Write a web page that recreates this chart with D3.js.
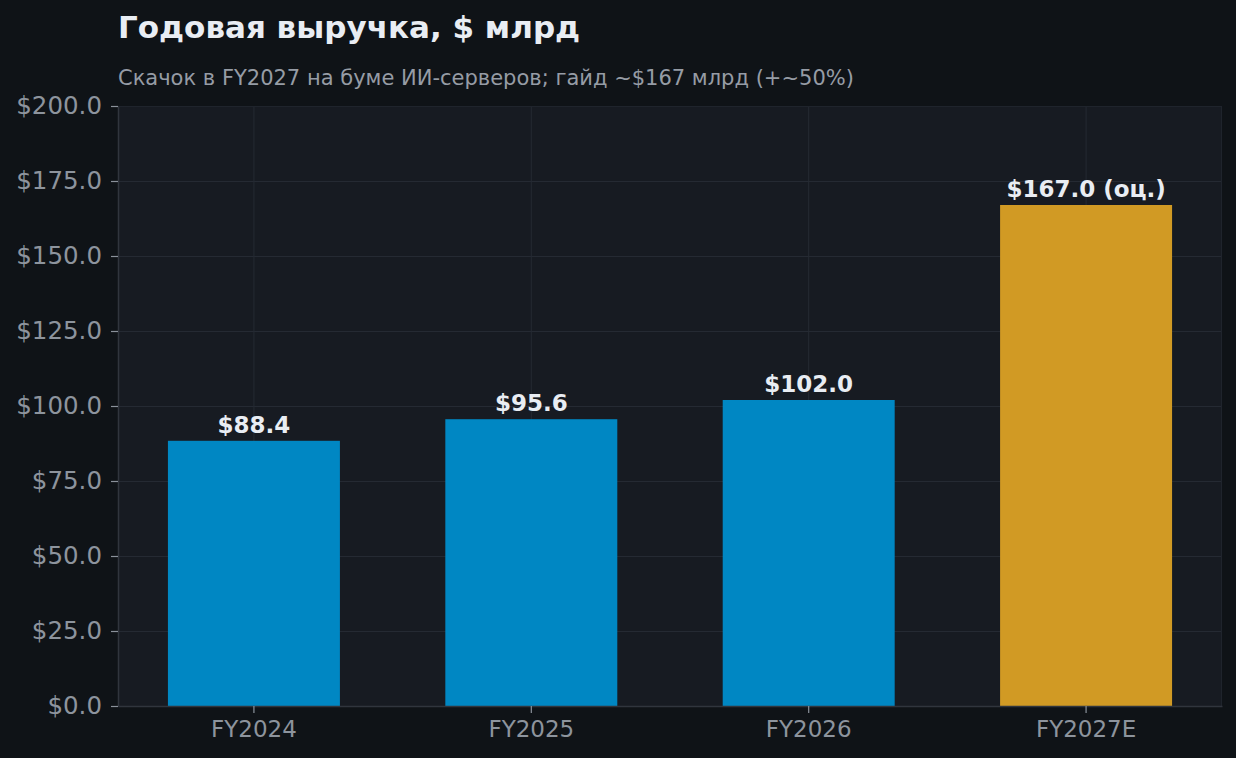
<!DOCTYPE html>
<html>
<head>
<meta charset="utf-8">
<script src="https://cdn.jsdelivr.net/npm/d3@7"></script>
<style>
  html, body { margin:0; padding:0; background:#0f1317; }
  svg { display:block; }
</style>
</head>
<body>
<svg id="chart" width="1236" height="758"></svg>
<script>
// data
const categories = ["FY2024", "FY2025", "FY2026", "FY2027E"];
const revenue = [88.4, 95.6, 102.0, 167.0];
const isEstimate = [false, false, false, true];
const yTicks = [0, 25, 50, 75, 100, 125, 150, 175, 200];

const titleText = "Годовая выручка, $ млрд";
const subtitleText = "Скачок в FY2027 на буме ИИ-серверов; гайд ~$167 млрд (+~50%)";

function fmt(v){ return "$" + v.toFixed(1); }

function draw(){
  const svg = d3.select("#chart");
  const W = 1236, H = 758;
  const m = {l:118, r:14, t:106, b:52};
  const font = "DejaVu Sans, sans-serif";

  svg.append("rect").attr("width", W).attr("height", H).attr("fill", "#0f1317");

  const x = d3.scaleBand().domain(categories)
    .range([m.l, W - m.r]).paddingInner(0.38).paddingOuter(0.18);
  const y = d3.scaleLinear().domain([0, 200]).range([H - m.b, m.t]);

  // plot background
  svg.append("rect")
    .attr("x", m.l).attr("y", m.t)
    .attr("width", W - m.r - m.l).attr("height", H - m.b - m.t)
    .attr("fill", "#171b22");

  // grid
  svg.append("g").selectAll("line.hg")
    .data(yTicks).enter().append("line")
    .attr("x1", m.l).attr("x2", W - m.r)
    .attr("y1", d => y(d) + 0.5).attr("y2", d => y(d) + 0.5)
    .attr("stroke", "#252a33").attr("stroke-width", 1);
  svg.append("g").selectAll("line.vg")
    .data(categories).enter().append("line")
    .attr("x1", d => x(d) + x.bandwidth()/2).attr("x2", d => x(d) + x.bandwidth()/2)
    .attr("y1", m.t).attr("y2", H - m.b)
    .attr("stroke", "#252a33").attr("stroke-width", 1);

  // bars
  svg.append("g").selectAll("rect.bar")
    .data(categories).enter().append("rect")
    .attr("x", d => x(d))
    .attr("y", (d, i) => y(revenue[i]))
    .attr("width", x.bandwidth())
    .attr("height", (d, i) => y(0) - y(revenue[i]))
    .attr("fill", (d, i) => isEstimate[i] ? "#d19a24" : "#0087c3");

  // value labels
  svg.append("g").selectAll("text.val")
    .data(categories).enter().append("text")
    .attr("x", d => x(d) + x.bandwidth()/2)
    .attr("y", (d, i) => y(revenue[i]) - 8)
    .attr("text-anchor", "middle")
    .attr("font-family", font).attr("font-weight", "bold").attr("font-size", 23)
    .attr("fill", "#e9edf3")
    .text((d, i) => fmt(revenue[i]) + (isEstimate[i] ? " (оц.)" : ""));

  // spines (top/right subtle)
  svg.append("line").attr("x1", m.l).attr("x2", W - m.r).attr("y1", m.t + 0.5).attr("y2", m.t + 0.5)
    .attr("stroke", "#1f242c");
  svg.append("line").attr("x1", W - m.r - 0.5).attr("x2", W - m.r - 0.5).attr("y1", m.t).attr("y2", H - m.b)
    .attr("stroke", "#1f242c");

  // axes
  const xAxis = svg.append("g")
    .attr("transform", `translate(0,${H - m.b})`)
    .call(d3.axisBottom(x).tickSize(7).tickSizeOuter(0).tickPadding(8));
  const yAxis = svg.append("g")
    .attr("transform", `translate(${m.l},0)`)
    .call(d3.axisLeft(y).tickValues(yTicks).tickFormat(fmt).tickSize(7).tickSizeOuter(0).tickPadding(9));

  [xAxis, yAxis].forEach(a => {
    a.select(".domain").attr("stroke", "#30353d").attr("stroke-width", 1.5);
    a.selectAll(".tick line").attr("stroke", "#8a919a").attr("stroke-width", 1.2);
    a.selectAll("text").attr("fill", "#8d949d").attr("font-family", font);
  });
  xAxis.selectAll("text").attr("font-size", 23);
  yAxis.selectAll("text").attr("font-size", 24.5);

  // titles
  svg.append("text").attr("x", 118).attr("y", 38)
    .attr("font-family", font).attr("font-weight", "bold").attr("font-size", 31)
    .attr("fill", "#e9edf3").text(titleText);
  svg.append("text").attr("x", 118).attr("y", 85)
    .attr("font-family", font).attr("font-size", 21)
    .attr("fill", "#969ca5").text(subtitleText);
}
draw();
</script>
</body>
</html>
